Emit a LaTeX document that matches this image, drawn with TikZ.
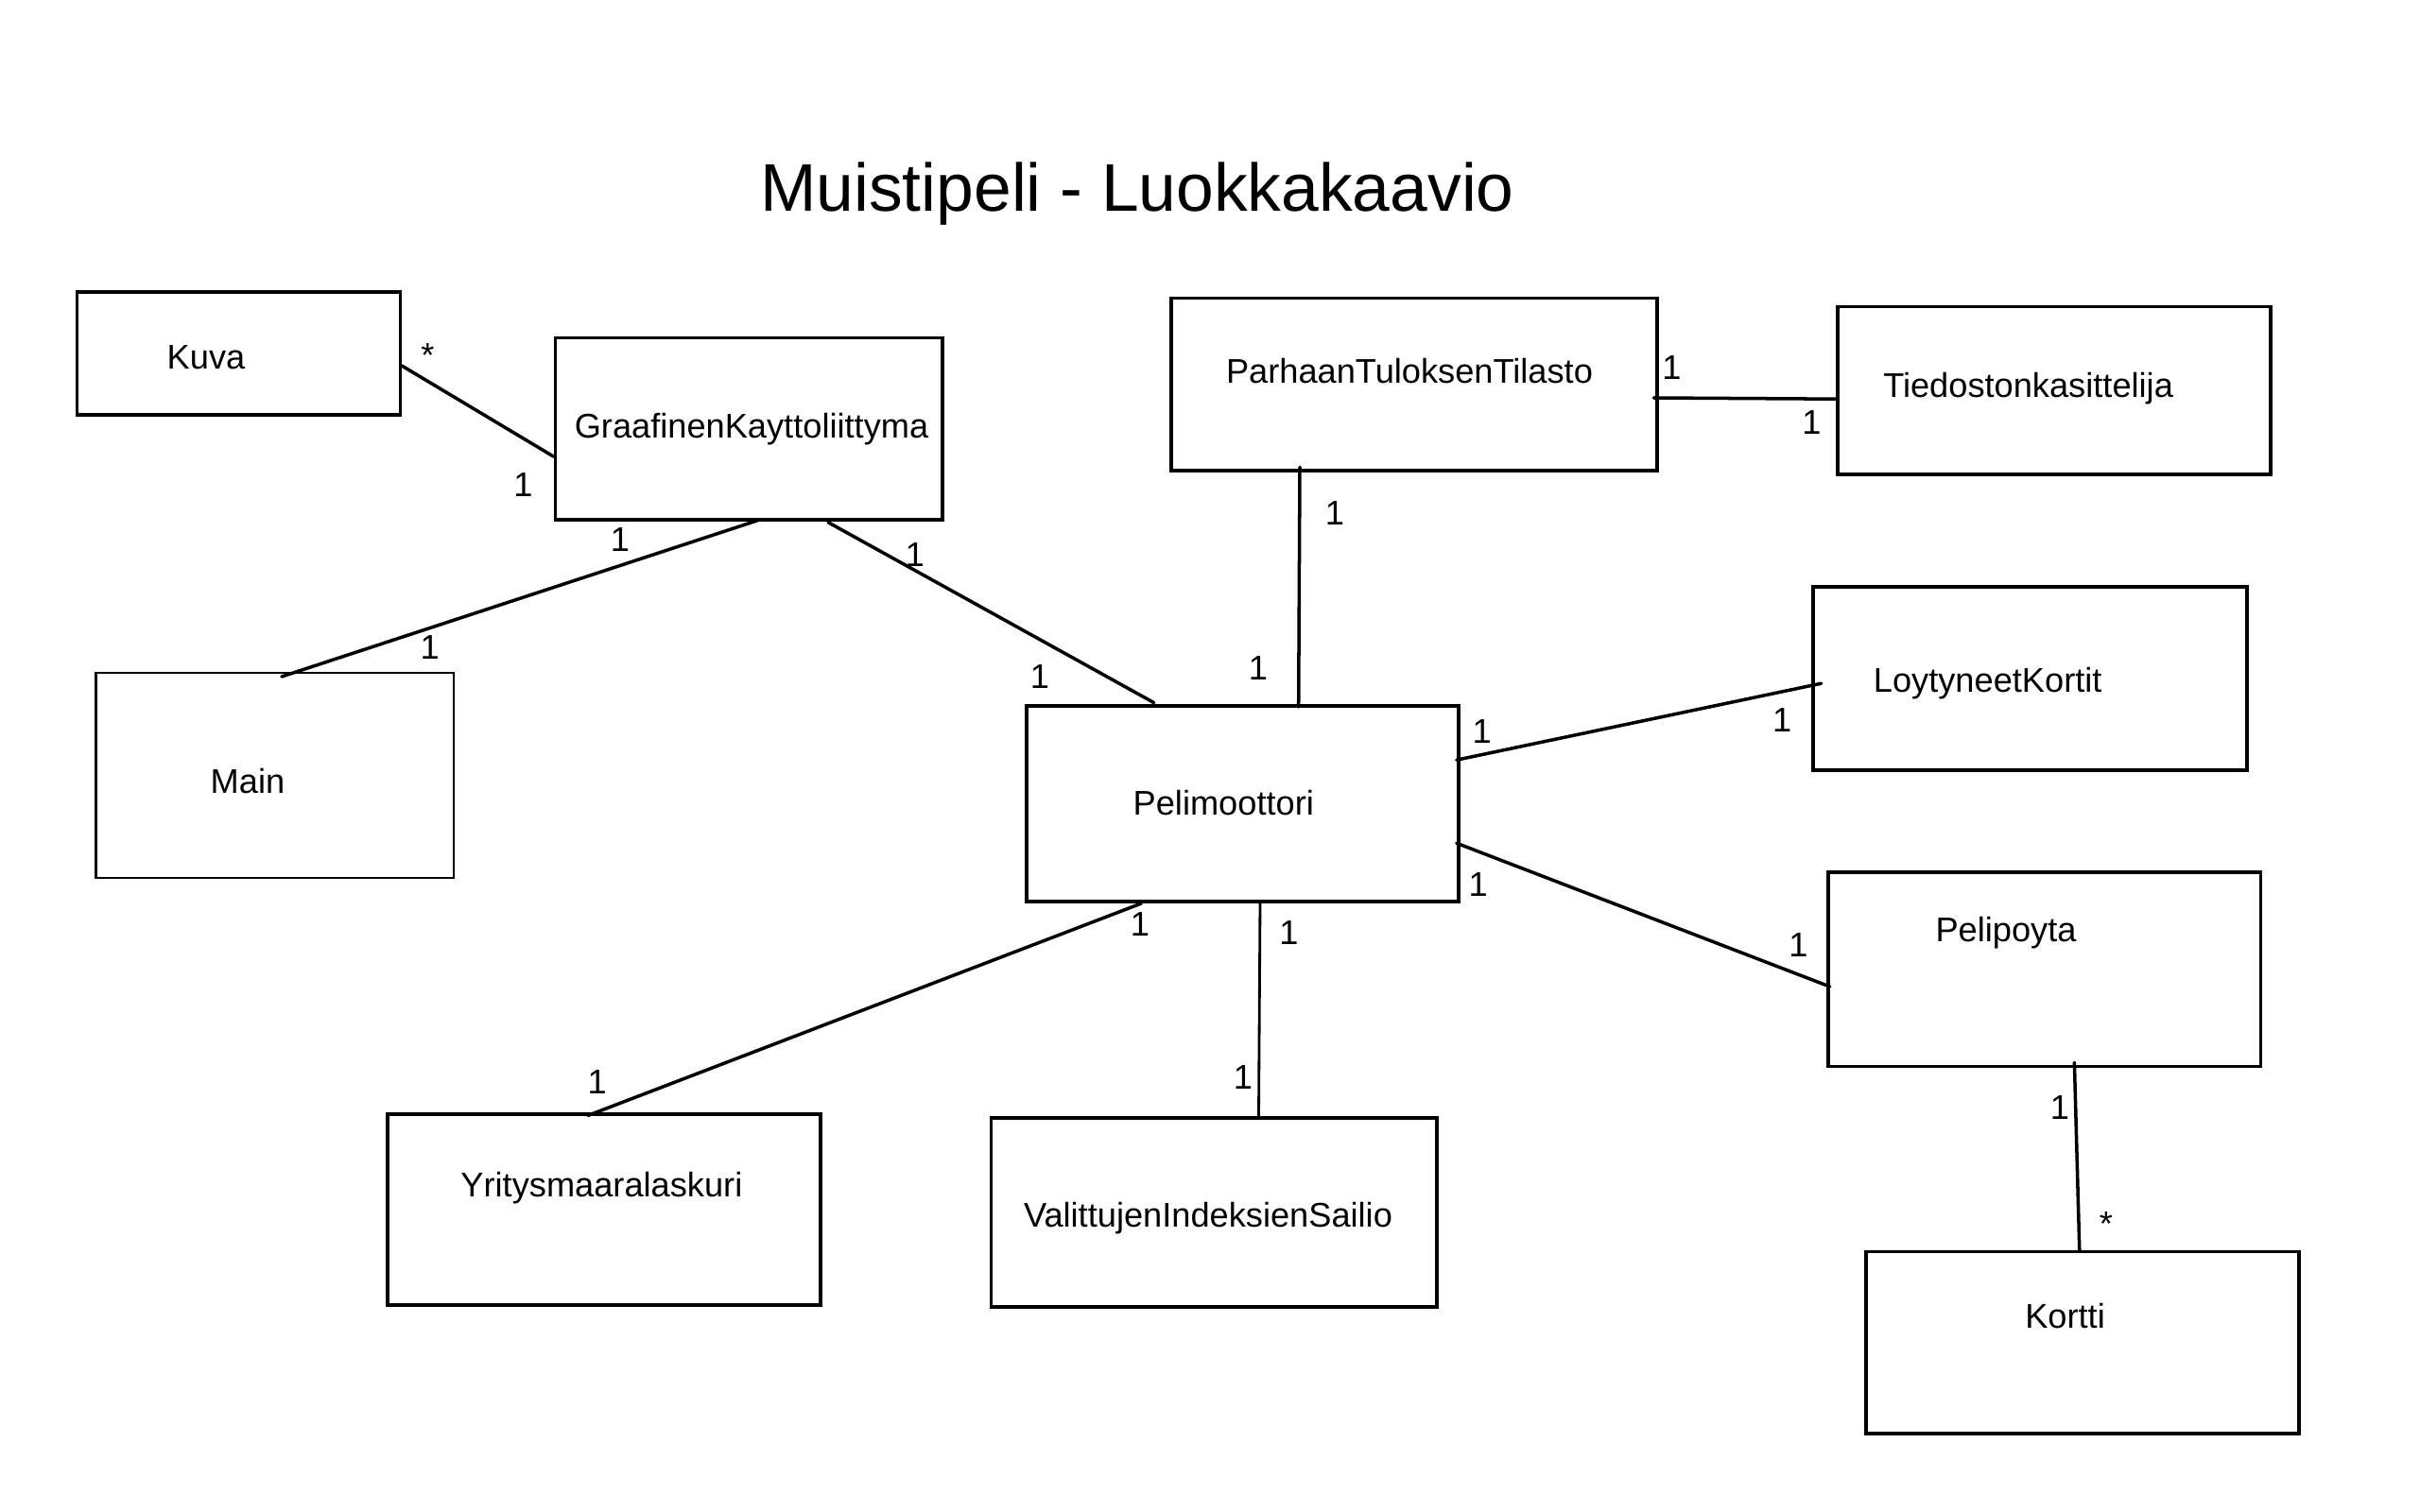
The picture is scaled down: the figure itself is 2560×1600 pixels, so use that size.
\documentclass[tikz,border=0pt]{standalone}
\usepackage{fontspec}
\setmainfont{Liberation Sans}
\begin{document}
\begin{tikzpicture}[x=0.01cm,y=-0.01cm,
  box/.style={draw, rectangle, line width=1.0pt, inner sep=0pt, outer sep=0pt},
  thinbox/.style={box, line width=0.65pt},
  lbl/.style={font=\fontsize{10.3pt}{12pt}\selectfont, inner sep=0pt, anchor=base},
  mult/.style={font=\fontsize{10.3pt}{12pt}\selectfont, inner sep=0pt},
  conn/.style={line width=1.0pt, line cap=round},
  thinconn/.style={line width=0.8pt, line cap=round}]
\useasboundingbox[fill=white] (0,0) rectangle (2560,1600);

% title
\node[inner sep=0pt, anchor=base, font=\fontsize{20.3pt}{24pt}\selectfont] (title) at (1203,224) {Muistipeli - Luokkakaavio};

% boxes
\node[box, minimum width=3.42cm, minimum height=1.30cm] (kuva) at (252.5,374) {};
\node[box, minimum width=4.09cm, minimum height=1.924cm] (graaf) at (792.3,453.8) {};
\node[thinbox, minimum width=3.78cm, minimum height=2.167cm] (main) at (290.7,820.3) {};
\node[box, minimum width=5.136cm, minimum height=1.823cm] (parhaan) at (1495.8,406.9) {};
\node[box, minimum width=4.58cm, minimum height=1.775cm] (tied) at (2173,413.2) {};
\node[box, minimum width=4.59cm, minimum height=1.94cm] (loyt) at (2147.5,718) {};
\node[box, minimum width=4.567cm, minimum height=2.072cm] (peli) at (1314.3,850.4) {};
\node[box, minimum width=4.575cm, minimum height=2.056cm] (pelip) at (2162.7,1025.8) {};
\node[box, minimum width=4.576cm, minimum height=2.02cm] (yrit) at (638.8,1280) {};
\node[box, minimum width=4.715cm, minimum height=2.00cm] (valit) at (1284.2,1283) {};
\node[box, minimum width=4.577cm, minimum height=1.925cm] (kortti) at (2202.8,1420.7) {};

% box texts
\node[lbl] (kuvaT) at (218,390.6) {Kuva};
\node[lbl] (graafT) at (795,463.6) {GraafinenKayttoliittyma};
\node[lbl] (mainT) at (262,839.6) {Main};
\node[lbl] (parhaanT) at (1491,405.6) {ParhaanTuloksenTilasto};
\node[lbl] (tiedT) at (2145.6,420.4) {Tiedostonkasittelija};
\node[lbl] (loytT) at (2102.7,732.7) {LoytyneetKortit};
\node[lbl] (pelipT) at (2122,996.4) {Pelipoyta};
\node[lbl] (peliT) at (1294.3,862.9) {Pelimoottori};
\node[lbl] (yritT) at (636.4,1266.5) {Yritysmaaralaskuri};
\node[lbl] (valitT) at (1278,1298.3) {ValittujenIndeksienSailio};
\node[lbl] (korttiT) at (2184.5,1405.7) {Kortti};

% connectors
\draw[conn] ([shift={(172.5,13)}]kuva.center) -- ([shift={(-206.5,29.4)}]graaf.center);
\draw[conn] ([shift={(9.5,96.8)}]graaf.center) -- ([shift={(7.3,-104.3)}]main.center);
\draw[conn] ([shift={(83.7,98.9)}]graaf.center) -- ([shift={(-93.6,-106.8)}]peli.center);
\draw[conn] ([shift={(-120.8,87.4)}]parhaan.center) -- ([shift={(59.4,-102.4)}]peli.center);
\draw[conn] ([shift={(253.6,14.1)}]parhaan.center) -- ([shift={(-231,9)}]tied.center);
\draw[conn] ([shift={(226.5,-46.2)}]peli.center) -- ([shift={(-220.8,5.2)}]loyt.center);
\draw[conn] ([shift={(226.5,41.8)}]peli.center) -- ([shift={(-227.1,18.2)}]pelip.center);
\draw[conn] ([shift={(-107,105.6)}]peli.center) -- ([shift={(-16.8,-99.6)}]yrit.center);
\draw[thinconn] ([shift={(18.7,103.6)}]peli.center) -- ([shift={(47.3,-101)}]valit.center);
\draw[conn] ([shift={(31.7,98.6)}]pelip.center) -- ([shift={(-3,-96.7)}]kortti.center);

% multiplicities
\node[mult] (m1) at (452.5,376.5) {*};
\node[mult] (m2) at (553.5,512.7) {1};
\node[mult] (m3) at (655.9,570.9) {1};
\node[mult] (m4) at (454.6,684.6) {1};
\node[mult] (m5) at (968,587) {1};
\node[mult] (m6) at (1100,715.6) {1};
\node[mult] (m7) at (1331,707.3) {1};
\node[mult] (m8) at (1412,542.7) {1};
\node[mult] (m9) at (1768.5,389) {1};
\node[mult] (m10) at (1916.5,447) {1};
\node[mult] (m11) at (1567.6,774.2) {1};
\node[mult] (m12) at (1885.2,762.1) {1};
\node[mult] (m13) at (1563.8,935.6) {1};
\node[mult] (m14) at (1902.4,1000) {1};
\node[mult] (m15) at (1206,978.3) {1};
\node[mult] (m16) at (1363.5,987.2) {1};
\node[mult] (m17) at (1315,1139.7) {1};
\node[mult] (m18) at (631.6,1145.3) {1};
\node[mult] (m19) at (2179,1172.2) {1};
\node[mult] (m20) at (2228,1294.6) {*};
\end{tikzpicture}
\end{document}
